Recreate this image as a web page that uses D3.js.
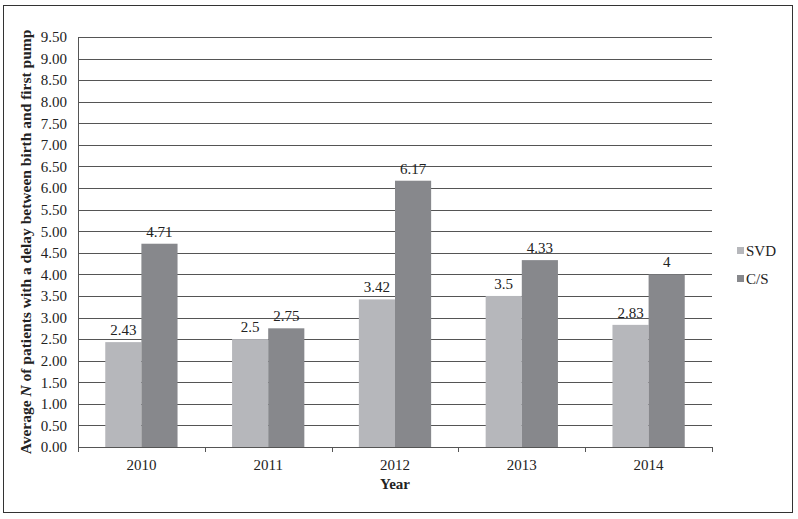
<!DOCTYPE html>
<head>
  <meta charset="utf-8">
  <script src="https://d3js.org/d3.v7.min.js"></script>
  <style>
body { margin: 0; background: #fff; }
svg, svg text { font-family: "Liberation Serif", "Times New Roman", serif; }
  </style>
</head>
<body>
<svg width="798" height="519"></svg>
<script>
var years = ["2010", "2011", "2012", "2013", "2014"];
var seriesNames = ["SVD", "C/S"];
var svdValues = [2.43, 2.5, 3.42, 3.5, 2.83];
var csValues = [4.71, 2.75, 6.17, 4.33, 4];
var svdLabels = ["2.43", "2.5", "3.42", "3.5", "2.83"];
var csLabels = ["4.71", "2.75", "6.17", "4.33", "4"];
var yTicks = d3.range(0, 9.51, 0.5);

var colors = ["#b6b7bb", "#87888c"];

var svg = d3.select("svg");
var margin = {top: 37, right: 86, bottom: 72, left: 78};
var width = 798 - margin.left - margin.right;
var height = 519 - margin.top - margin.bottom;

// outer frame
svg.append("rect")
    .attr("x", 3.5).attr("y", 5.5)
    .attr("width", 789).attr("height", 507)
    .attr("fill", "none")
    .attr("stroke", "#333")
    .attr("stroke-width", 1);

var g = svg.append("g")
    .attr("transform", "translate(" + margin.left + "," + margin.top + ")");

var x = d3.scaleBand()
    .domain(years)
    .range([0, width])
    .paddingInner(0.43)
    .paddingOuter(0.215);

var x1 = d3.scaleBand()
    .domain(seriesNames)
    .range([0, x.bandwidth()]);

var y = d3.scaleLinear()
    .domain([0, 9.5])
    .range([height, 0]);

// gridlines
g.append("g")
  .selectAll("line")
  .data(yTicks)
  .enter().append("line")
    .attr("x1", 0)
    .attr("x2", width)
    .attr("y1", function(d) { return Math.round(y(d)) + 0.5; })
    .attr("y2", function(d) { return Math.round(y(d)) + 0.5; })
    .attr("stroke", "#555")
    .attr("stroke-width", 1);

// y axis
var yAxis = g.append("g")
    .attr("font-family", null)
    .call(d3.axisLeft(y)
      .tickValues(yTicks)
      .tickSize(0)
      .tickPadding(11)
      .tickFormat(d3.format(".2f")));
yAxis.attr("font-family", null);
yAxis.select(".domain").attr("stroke", "#555");
yAxis.selectAll("text")
    .attr("font-size", "15px")
    .attr("fill", "#222");

// bars
var groups = g.selectAll(".year")
  .data(years)
  .enter().append("g")
    .attr("class", "year")
    .attr("transform", function(d) { return "translate(" + x(d) + ",0)"; });

function pairs(d, i) {
  return [
    {key: "SVD", value: svdValues[i], label: svdLabels[i]},
    {key: "C/S", value: csValues[i], label: csLabels[i]}
  ];
}

groups.selectAll("rect")
  .data(pairs)
  .enter().append("rect")
    .attr("x", function(d) { return x1(d.key); })
    .attr("width", x1.bandwidth())
    .attr("y", function(d) { return y(d.value); })
    .attr("height", function(d) { return height - y(d.value); })
    .attr("fill", function(d, i) { return colors[i]; });

groups.selectAll("text.val")
  .data(pairs)
  .enter().append("text")
    .attr("class", "val")
    .attr("x", function(d) { return x1(d.key) + x1.bandwidth() / 2; })
    .attr("y", function(d) { return y(d.value) - 7; })
    .attr("text-anchor", "middle")
    .attr("font-size", "15px")
    .attr("fill", "#222")
    .text(function(d) { return d.label; });

// x axis
var xAxis = g.append("g")
    .attr("transform", "translate(0," + height + ")")
    .call(d3.axisBottom(x).tickSize(0).tickPadding(12));
xAxis.attr("font-family", null);
xAxis.select(".domain").attr("stroke", "#555");
xAxis.selectAll("text")
    .attr("font-size", "15px")
    .attr("fill", "#222");

// category boundary ticks
var step = x.step();
g.append("g")
  .selectAll("line")
  .data(d3.range(years.length + 1))
  .enter().append("line")
    .attr("x1", function(i) { return Math.round(i * step) + 0.5; })
    .attr("x2", function(i) { return Math.round(i * step) + 0.5; })
    .attr("y1", height)
    .attr("y2", height + 5)
    .attr("stroke", "#555");

// axis titles
g.append("text")
    .attr("x", width / 2)
    .attr("y", height + 42)
    .attr("text-anchor", "middle")
    .attr("font-size", "15px")
    .attr("font-weight", "bold")
    .attr("fill", "#222")
    .text("Year");

var yt = g.append("text")
    .attr("transform", "translate(-47," + (height / 2) + ") rotate(-90)")
    .attr("text-anchor", "middle")
    .attr("font-size", "15.5px")
    .attr("font-weight", "bold")
    .attr("fill", "#222");
yt.append("tspan").text("Average ");
yt.append("tspan").attr("font-style", "italic").text("N");
yt.append("tspan").text(" of patients with a delay between birth and first pump");

// legend
var legend = svg.append("g")
    .attr("transform", "translate(737,248)");
legend.selectAll("g")
  .data(seriesNames)
  .enter().append("g")
    .attr("transform", function(d, i) { return "translate(0," + (i * 28) + ")"; })
    .each(function(d, i) {
      var lg = d3.select(this);
      lg.append("rect")
        .attr("width", 7).attr("height", 7)
        .attr("y", -1)
        .attr("fill", colors[i]);
      lg.append("text")
        .attr("x", 9)
        .attr("y", 8)
        .attr("font-size", "15px")
        .attr("fill", "#222")
        .text(d);
    });
</script>
</body>
